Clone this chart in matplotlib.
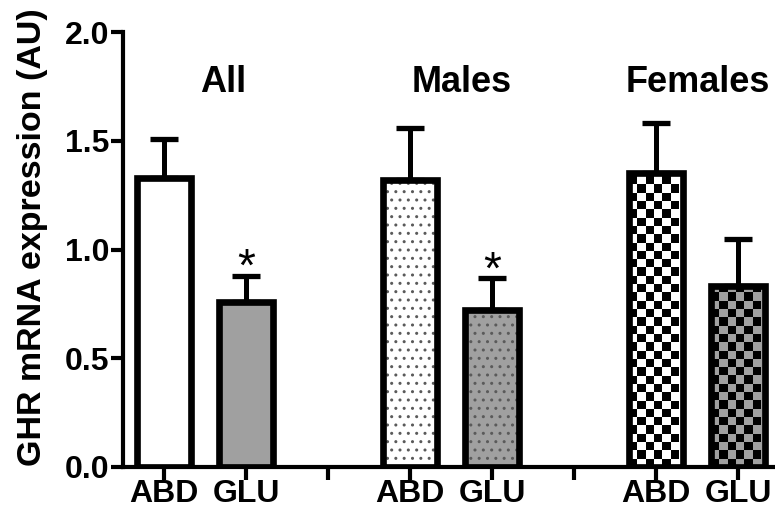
import numpy as np
import matplotlib
matplotlib.use("Agg")
import matplotlib.pyplot as plt

plt.rcParams['font.family'] = ['Liberation Sans', 'DejaVu Sans']

# ---- data ----
groups = ["All", "Males", "Females"]
tissues = ["ABD", "GLU"]
means = [1.33, 0.76, 1.32, 0.72, 1.35, 0.83]
sems = [0.18, 0.12, 0.24, 0.15, 0.23, 0.22]
significant = [False, True, False, True, False, False]
positions = [0, 1, 3, 4, 6, 7]
tick_positions = [0, 1, 2, 3, 4, 5, 6, 7]
tick_labels = ["ABD", "GLU", "", "ABD", "GLU", "", "ABD", "GLU"]
yticks = [0.0, 0.5, 1.0, 1.5, 2.0]
ylabel = "GHR mRNA expression (AU)"

# ---- styles ----
GREY = "#a0a0a0"
face = ["white", GREY, "white", GREY, "white", GREY]
fill_style = ["plain", "plain", "dots", "dots", "checker", "checker"]
title_x = [0.72, 3.63, 6.51]
title_y = 1.77

fig = plt.figure(figsize=(7.75, 5.19), dpi=100)
ax = fig.add_axes([123/775, 52/519, 652/775, 435/519])
ax.set_xlim(-0.5, 7.45)
ax.set_ylim(0, 2.0)

bw = 0.65
LW = 4.8
base = ax.bar(positions, means, width=bw, color=face, edgecolor="none",
              linewidth=0, zorder=1)
for rect, st in zip(base, fill_style):
    if st == "dots":
        rect.set_hatch("..")
        rect.set_edgecolor("#5a5a5a")
        rect.set_linewidth(0)

# checkerboard fills clipped to bars
for rect, st, fc in zip(base, fill_style, face):
    if st != "checker":
        continue
    bb = rect.get_window_extent()
    cell = 8.3
    ncol = max(1, int(round(bb.width / cell)))
    nrow = max(1, int(round(bb.height / cell)))
    ii, jj = np.indices((nrow, ncol))
    mask = (ii + jj) % 2 == 0
    c2 = np.array(matplotlib.colors.to_rgb(fc))
    img = np.where(mask[..., None], np.zeros(3), c2[None, None, :])
    x0 = rect.get_x()
    h = rect.get_height()
    xe = x0 + rect.get_width() * (ncol * cell / bb.width)
    ye = h * (nrow * cell / bb.height)
    im = ax.imshow(img, extent=(x0, xe, 0, ye), origin="lower",
                   interpolation="nearest", aspect="auto", zorder=1.5)
    im.set_clip_path(rect)

ax.set_xlim(-0.5, 7.45)
ax.set_ylim(0, 2.0)

ax.bar(positions, means, width=bw, facecolor="none", edgecolor="black",
       linewidth=LW, zorder=2)
ax.errorbar(positions, means, yerr=[np.zeros(len(sems)), sems], fmt="none",
            ecolor="black", elinewidth=3.6, capsize=10, capthick=3.8, zorder=0.8)

for p, m, s, sig in zip(positions, means, sems, significant):
    if sig:
        ax.text(p, m + s - 0.025, "*", ha="center", va="baseline",
                fontsize=33, color="black")

for g, tx in zip(groups, title_x):
    ax.text(tx, title_y, g, ha="center", va="center", fontsize=26,
            fontweight="bold")

ax.spines["top"].set_visible(False)
ax.spines["right"].set_visible(False)
for sp in ("left", "bottom"):
    ax.spines[sp].set_linewidth(3)
ax.set_yticks(yticks)
ax.set_yticklabels([f"{v:.1f}" for v in yticks], fontsize=23, fontweight="bold")
ax.set_xticks(tick_positions)
ax.set_xticklabels(tick_labels, fontsize=23, fontweight="bold")
ax.tick_params(axis="both", width=3, length=9, direction="out")
ax.tick_params(axis="y", pad=1.0)
ax.tick_params(axis="x", pad=0.0)

ax.set_ylabel(ylabel, fontsize=24.5, fontweight="bold")
ax.yaxis.set_label_coords((33 - 123) / 652, (467 - 237) / 435)
ax.yaxis.label.set_va("center")

fig.savefig("out.png", dpi=100)
